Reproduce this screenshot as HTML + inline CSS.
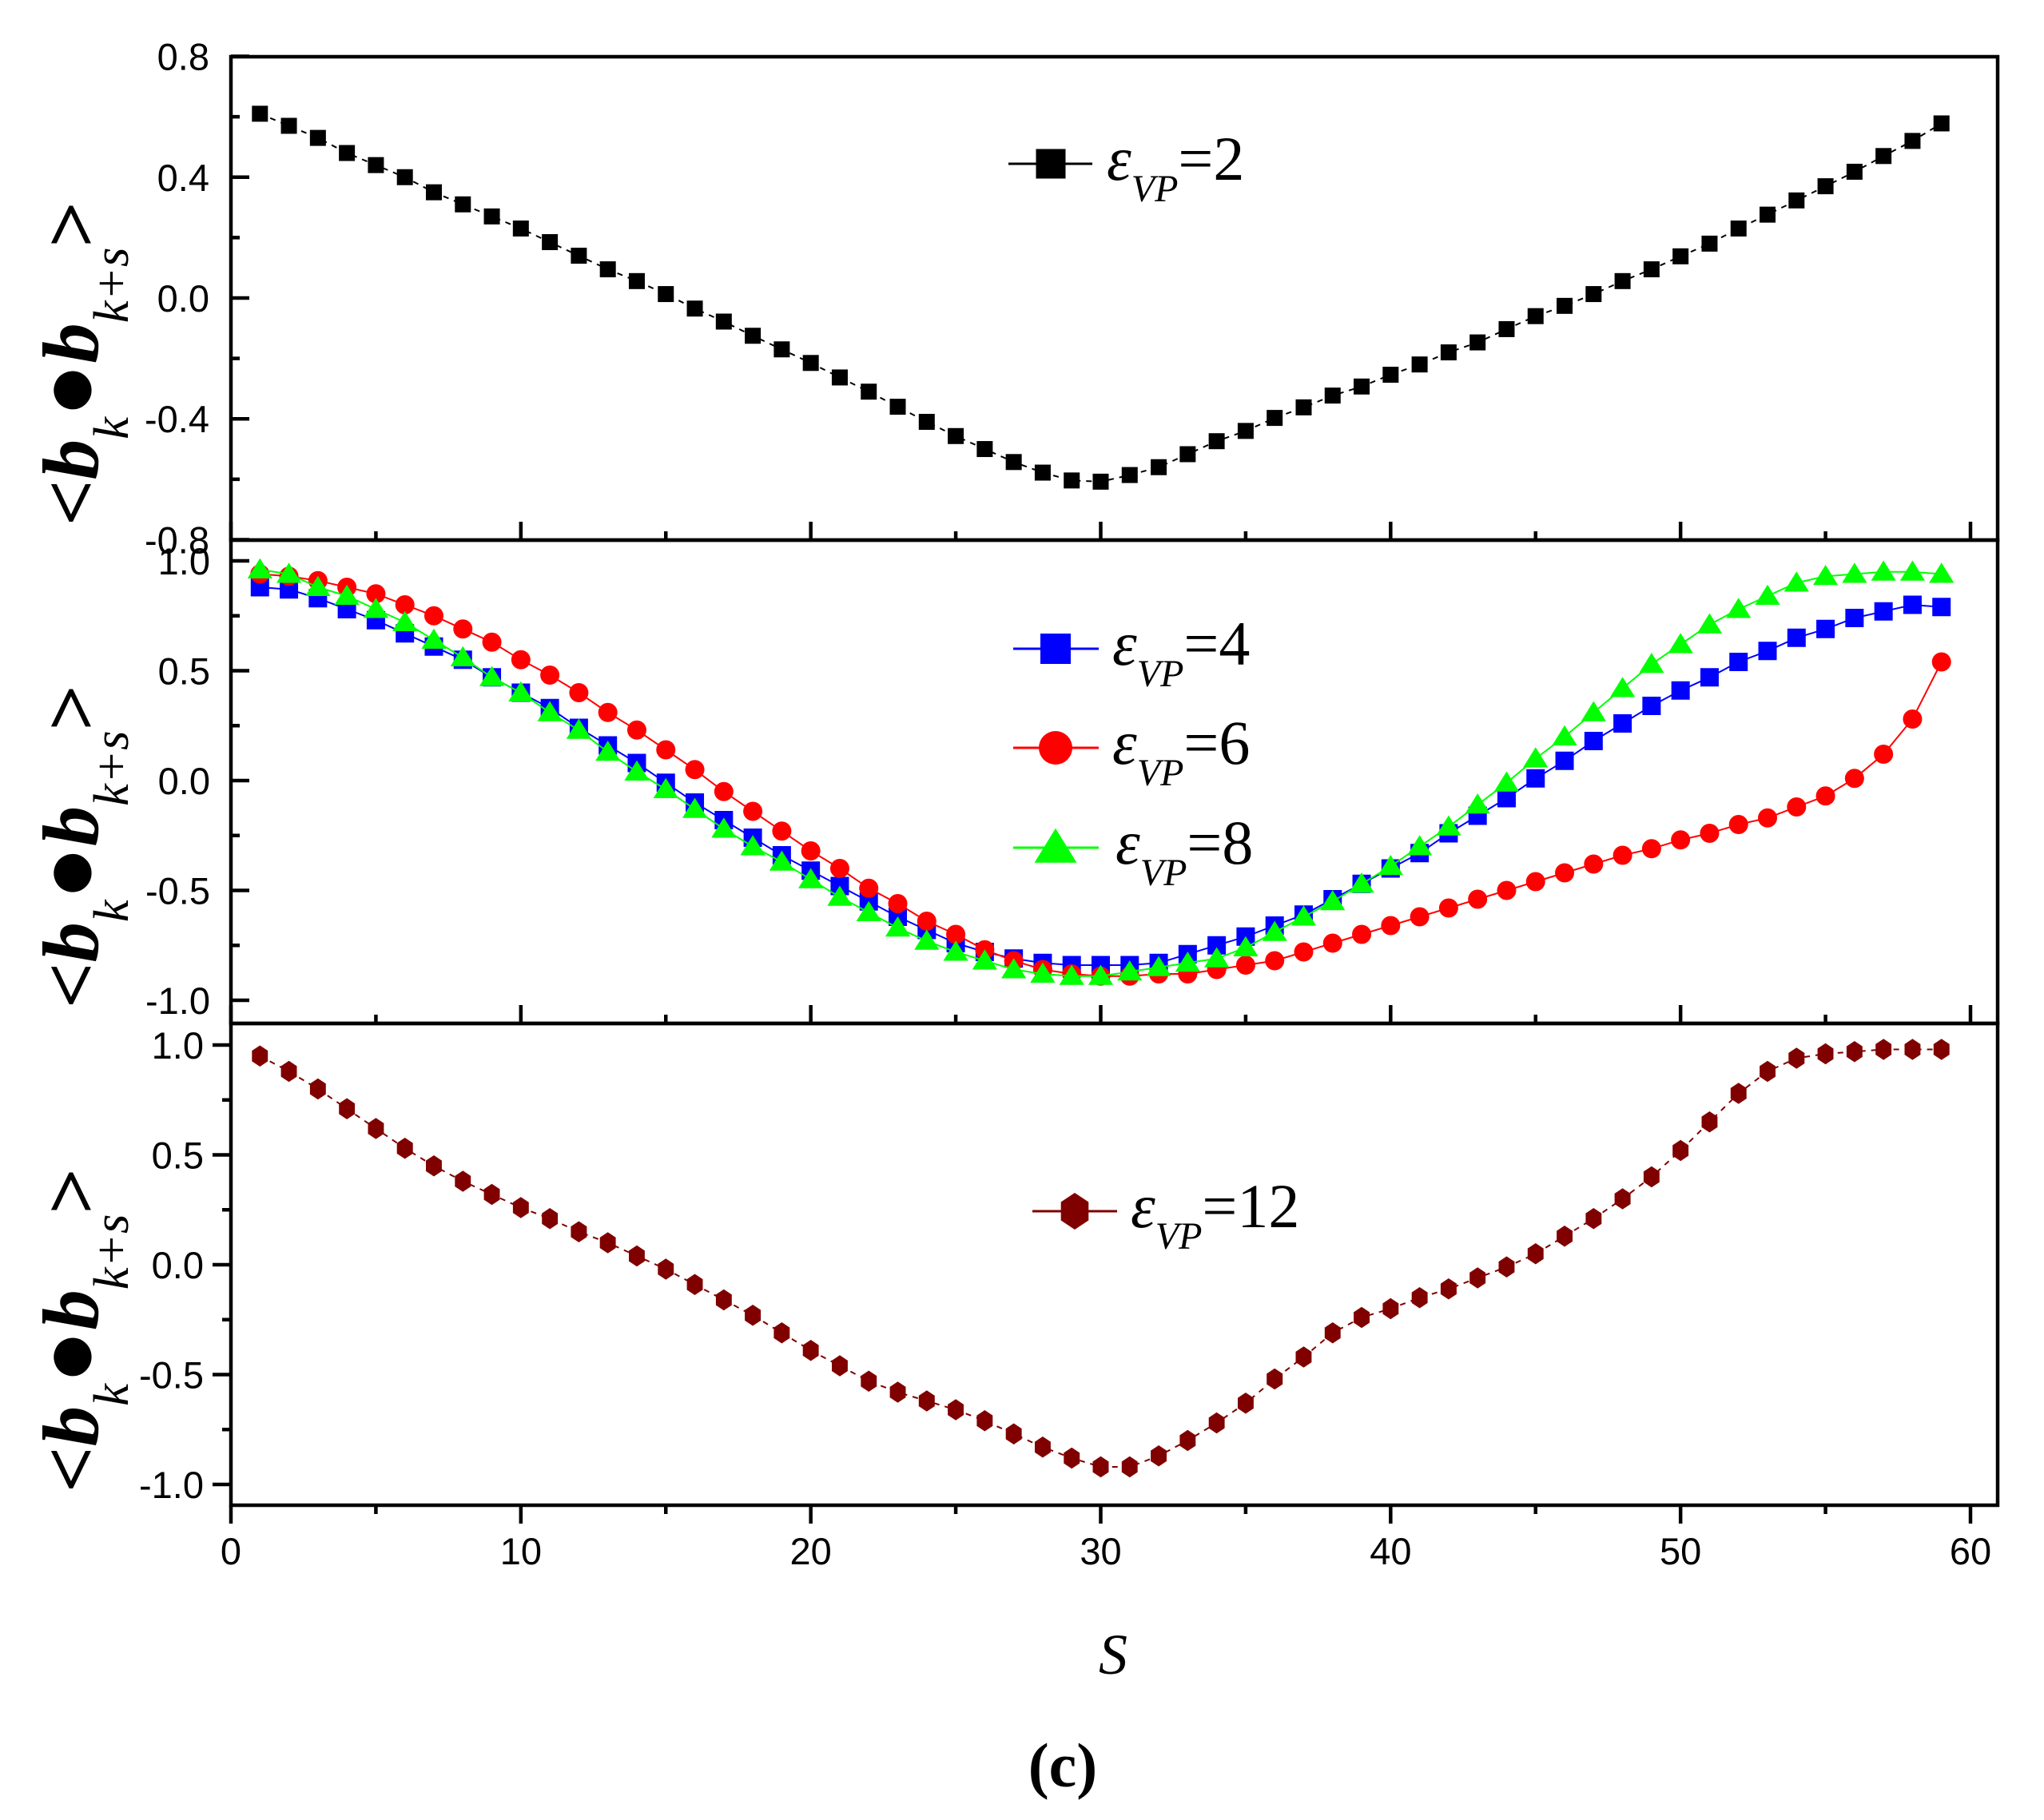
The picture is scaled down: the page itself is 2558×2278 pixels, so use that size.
<!DOCTYPE html>
<html><head><meta charset="utf-8"><style>
html,body{margin:0;padding:0;background:#fff;}
svg{display:block;}
</style></head><body>
<svg id="chart" width="2558" height="2278" viewBox="0 0 2558 2278" xmlns="http://www.w3.org/2000/svg">
<rect width="2558" height="2278" fill="#fff"/>
<g id="g"></g>
</svg>
<script>
const sValues = [1,2,3,4,5,6,7,8,9,10,11,12,13,14,15,16,17,18,19,20,21,22,23,24,25,26,27,28,29,30,31,32,33,34,35,36,37,38,39,40,41,42,43,44,45,46,47,48,49,50,51,52,53,54,55,56,57,58,59];
const eps2 = [0.61,0.57,0.53,0.48,0.44,0.40,0.35,0.31,0.27,0.23,0.185,0.14,0.095,0.056,0.013,-0.035,-0.078,-0.125,-0.17,-0.215,-0.263,-0.31,-0.36,-0.41,-0.457,-0.5,-0.543,-0.578,-0.604,-0.608,-0.586,-0.56,-0.517,-0.474,-0.44,-0.397,-0.362,-0.323,-0.293,-0.254,-0.22,-0.18,-0.147,-0.103,-0.06,-0.026,0.013,0.056,0.095,0.138,0.18,0.23,0.276,0.323,0.37,0.418,0.47,0.52,0.578];
const eps4 = [0.88,0.87,0.83,0.78,0.73,0.67,0.61,0.55,0.47,0.40,0.33,0.24,0.16,0.08,-0.01,-0.10,-0.18,-0.26,-0.34,-0.41,-0.48,-0.55,-0.62,-0.68,-0.74,-0.78,-0.81,-0.83,-0.84,-0.84,-0.84,-0.83,-0.79,-0.75,-0.71,-0.66,-0.61,-0.54,-0.47,-0.40,-0.33,-0.24,-0.16,-0.08,0.01,0.09,0.18,0.26,0.34,0.41,0.47,0.54,0.59,0.65,0.69,0.74,0.77,0.80,0.79];
const eps6 = [0.94,0.93,0.91,0.88,0.85,0.80,0.75,0.69,0.63,0.55,0.48,0.40,0.31,0.23,0.14,0.05,-0.05,-0.14,-0.23,-0.32,-0.40,-0.49,-0.56,-0.64,-0.70,-0.77,-0.82,-0.86,-0.88,-0.89,-0.89,-0.88,-0.88,-0.86,-0.84,-0.82,-0.78,-0.74,-0.70,-0.66,-0.62,-0.58,-0.54,-0.50,-0.46,-0.42,-0.38,-0.34,-0.31,-0.27,-0.24,-0.20,-0.17,-0.12,-0.07,0.01,0.12,0.28,0.54];
const eps8 = [0.96,0.94,0.88,0.84,0.78,0.72,0.64,0.56,0.47,0.40,0.31,0.23,0.13,0.04,-0.04,-0.13,-0.22,-0.30,-0.37,-0.45,-0.53,-0.60,-0.67,-0.73,-0.78,-0.82,-0.86,-0.88,-0.89,-0.89,-0.87,-0.85,-0.83,-0.81,-0.76,-0.69,-0.62,-0.55,-0.47,-0.39,-0.30,-0.21,-0.11,-0.01,0.10,0.20,0.31,0.42,0.53,0.62,0.71,0.78,0.84,0.90,0.93,0.94,0.95,0.95,0.94];
const eps12 = [0.95,0.88,0.80,0.71,0.62,0.53,0.45,0.38,0.32,0.26,0.21,0.15,0.10,0.04,-0.02,-0.09,-0.16,-0.23,-0.31,-0.39,-0.46,-0.53,-0.58,-0.62,-0.66,-0.71,-0.77,-0.83,-0.88,-0.92,-0.92,-0.87,-0.80,-0.72,-0.63,-0.52,-0.42,-0.31,-0.24,-0.20,-0.15,-0.11,-0.06,-0.01,0.05,0.13,0.21,0.30,0.40,0.52,0.65,0.78,0.88,0.94,0.96,0.97,0.98,0.98,0.98];
const xTicks = [0,10,20,30,40,50,60];
const yTicksTop = [0.8,0.4,0.0,-0.4,-0.8];
const yTicksMid = [1.0,0.5,0.0,-0.5,-1.0];
const yTicksBot = [1.0,0.5,0.0,-0.5,-1.0];

const NS = "http://www.w3.org/2000/svg";
const G = document.getElementById('g');
const SANS = "'Liberation Sans', Arial, sans-serif";
const SERIF = "'Liberation Serif', 'Times New Roman', serif";
function el(tag, attrs, parent){ const e=document.createElementNS(NS,tag); for(const k in attrs) e.setAttribute(k,attrs[k]); (parent||G).appendChild(e); return e; }

const X0=289, X60=2466, XR=2500;
function xs(s){ return X0 + s*(X60-X0)/60; }
const panels = [
  {top:71, bot:676, y0:373, k:378.1, ticks:yTicksTop, minorStep:0.2, tickOut:false, labelX:262, name:'top-panel', ty0:658, ty1:252},
  {top:676, bot:1281, y0:977, k:275, ticks:yTicksMid, minorStep:0.25, tickOut:false, labelX:263, name:'middle-panel', ty0:1262, ty1:857},
  {top:1281, bot:1884, y0:1583, k:275, ticks:yTicksBot, minorStep:0.25, tickOut:true, labelX:255, name:'bottom-panel', ty0:1868, ty1:1462}
];
function ys(p,v){ return p.y0 - v*p.k; }
function fmt(v){ return v.toFixed(1); }

panels.forEach((p,pi)=>{
  const g = el('g',{});
  
  
  const box = el('rect',{x:X0,y:p.top,width:XR-X0,height:p.bot-p.top,fill:'none',stroke:'#000','stroke-width':4.5},g);
  
  
  const vmax=p.ticks[0], vmin=p.ticks[p.ticks.length-1];
  for(let v=vmin; v<=vmax+1e-9; v+=p.minorStep){
    const y=ys(p,v);
    const major = p.ticks.some(t=>Math.abs(t-v)<1e-6);
    const len = major?23:11;
    const x2 = p.tickOut ? X0-len : X0+len;
    const t = el('line',{x1:X0,y1:y,x2:x2,y2:y,stroke:'#000','stroke-width':4.5},g);
    
    
  }
  p.ticks.forEach(v=>{
    const t = el('text',{x:p.labelX,y:ys(p,v)+17,'text-anchor':'end','font-family':SANS,'font-size':47},g);
    t.textContent = fmt(v);
    
    
  });
  for(let s=0; s<=60; s+=5){
    const x=xs(s);
    const major = s%10===0;
    const len = major?23:11;
    const y2 = p.tickOut ? p.bot+len : p.bot-len;
    const t = el('line',{x1:x,y1:p.bot,x2:x,y2:y2,stroke:'#000','stroke-width':4.5},g);
    
    
  }
  const len = p.ty0-p.ty1;
  const tx = el('text',{transform:`translate(122,${p.ty0}) rotate(-90)`,'text-anchor':'start','font-family':SERIF,'font-weight':'bold','font-size':100,textLength:len,lengthAdjust:'spacingAndGlyphs'},g);
  
  
  tx.innerHTML = '<tspan>&lt;</tspan><tspan font-style="italic">b</tspan><tspan font-size="62" font-style="italic" font-weight="normal" dy="38">k</tspan><tspan dy="-38" font-size="110">●</tspan><tspan font-style="italic">b</tspan><tspan font-size="62" font-style="italic" font-weight="normal" dy="38">k+s</tspan><tspan dy="-38">&gt;</tspan>';
});

xTicks.forEach(s=>{
  const t = el('text',{x:xs(s),y:1958,'text-anchor':'middle','font-family':SANS,'font-size':47});
  t.textContent = s;
  
  
});
const xt = el('text',{x:1393,y:2095,'text-anchor':'middle','font-family':SERIF,'font-style':'italic','font-size':72});
xt.textContent='S';


const cap = el('text',{x:1330,y:2236,'text-anchor':'middle','font-family':SERIF,'font-weight':'bold','font-size':78});
cap.textContent='(c)';



function marker(shape, x, y, color, size, parent){
  let m;
  const r=size/2;
  if(shape==='square') m=el('rect',{x:x-r,y:y-r,width:size,height:size,fill:color},parent);
  else if(shape==='circle') m=el('circle',{cx:x,cy:y,r:r,fill:color},parent);
  else if(shape==='triangle') m=el('polygon',{points:`${x},${y-r*1.1} ${x-r*1.2},${y+r*0.85} ${x+r*1.2},${y+r*0.85}`,fill:color},parent);
  else { const pts=[]; for(let i=0;i<6;i++){const a=Math.PI/2+i*Math.PI/3; pts.push((x+r*Math.cos(a)).toFixed(1)+','+(y-r*1.15*Math.sin(a)).toFixed(1));} m=el('polygon',{points:pts.join(' '),fill:color},parent); }
  return m;
}

const series = [
  {data:eps2, p:0, color:'#000000', shape:'square', size:20, dash:'7,7', name:'series-eps2'},
  {data:eps4, p:1, color:'#0000FF', shape:'square', size:23, dash:null, name:'series-eps4'},
  {data:eps6, p:1, color:'#FF0000', shape:'circle', size:24, dash:null, name:'series-eps6'},
  {data:eps8, p:1, color:'#00FF00', shape:'triangle', size:26, dash:null, name:'series-eps8'},
  {data:eps12, p:2, color:'#800000', shape:'hex', size:23, dash:'7,7', name:'series-eps12'}
];
series.forEach(sr=>{
  const p=panels[sr.p];
  const g=el('g',{});
  
  
  const pts = sValues.map((s,i)=>xs(s).toFixed(1)+','+ys(p,sr.data[i]).toFixed(1)).join(' ');
  const attrs={points:pts,fill:'none',stroke:sr.color,'stroke-width':2};
  if(sr.dash) attrs['stroke-dasharray']=sr.dash;
  const line=el('polyline',attrs,g);
  
  
  sValues.forEach((s,i)=>{
    const m=marker(sr.shape, xs(s), ys(p,sr.data[i]), sr.color, sr.size, g);
    
    
  });
});

const legends = [
  {lx1:1262,lx2:1367,y:205,mx:1315,shape:'square',color:'#000',size:37,tx:1385,label:'2'},
  {lx1:1268,lx2:1375,y:812,mx:1321,shape:'square',color:'#0000FF',size:38,tx:1392,label:'4'},
  {lx1:1268,lx2:1375,y:936,mx:1321,shape:'circle',color:'#FF0000',size:42,tx:1392,label:'6'},
  {lx1:1268,lx2:1375,y:1061,mx:1321,shape:'triangle',color:'#00FF00',size:44,tx:1396,label:'8'},
  {lx1:1292,lx2:1398,y:1516,mx:1345,shape:'hex',color:'#800000',size:40,tx:1415,label:'12'}
];
legends.forEach(l=>{
  const g=el('g',{});
  
  
  el('line',{x1:l.lx1,y1:l.y,x2:l.lx2,y2:l.y,stroke:l.color,'stroke-width':3},g);
  marker(l.shape,l.mx,l.y,l.color,l.size,g);
  const t=el('text',{x:l.tx,y:l.y+20,'font-family':SERIF,'font-size':78},g);
  t.innerHTML='<tspan font-style="italic">ε</tspan><tspan font-style="italic" font-size="48" dy="27">VP</tspan><tspan dy="-27">='+l.label+'</tspan>';
  
  
});
</script>
</body></html>
